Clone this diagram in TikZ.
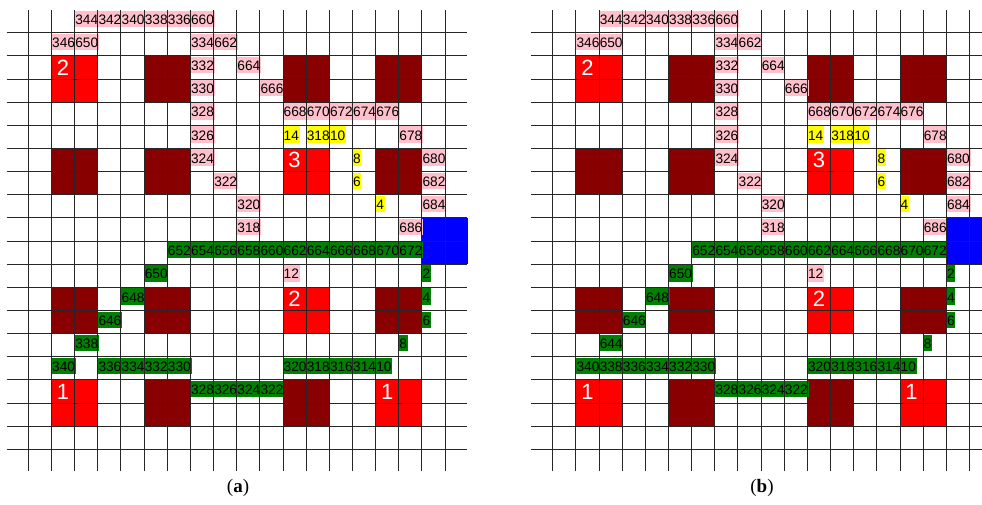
\documentclass[tikz,border=0pt]{standalone}
\usepackage{fontspec}
\setmainfont{Liberation Sans}
\newfontfamily\capfont{Liberation Serif}
\definecolor{cpink}{RGB}{255,192,203}
\definecolor{cyel}{RGB}{255,255,0}
\definecolor{cgreen}{RGB}{0,128,0}
\definecolor{cred}{RGB}{255,0,0}
\definecolor{cdark}{RGB}{136,0,0}
\definecolor{cblue}{RGB}{0,0,255}
\pgfdeclarelayer{bg}\pgfdeclarelayer{fg}\pgfsetlayers{bg,main,fg}
\tikzset{
 gridline/.style={line width=1pt, draw=black!85},
 labtext/.style={anchor=north west, inner xsep=0.5pt, inner ysep=0pt, text height=13.5pt, text depth=2.5pt, font=\fontsize{13.7}{14}\selectfont},
 bignum/.style={text=white, font=\fontsize{22}{24}\selectfont, inner sep=0pt},
 capst/.style={anchor=base, font=\capfont\fontsize{19}{22}\selectfont}
}
% label: #1 panel, #2 col, #3 row, #4 text, #5 colour
\newcommand\labx[5]{%
 \begin{pgfonlayer}{fg}\node[labtext] (#1l#2r#3) at ({5.2+23.15*#2},{10.55+23.15*#3}) {#4};\end{pgfonlayer}%
 \begin{pgfonlayer}{bg}\fill[#5] (#1l#2r#3.north west) rectangle (#1l#2r#3.south east);\end{pgfonlayer}}
\newcommand\drawpanel[3]{% #1 name, #2 line end, #3 blue right edge
 \foreach \k in {1,...,19}{
   \draw[gridline] ({5.2+23.15*\k},10) -- ({5.2+23.15*\k},471);
   \draw[gridline] (7,{9.55+23.15*\k}) -- (#2,{9.55+23.15*\k});
 }
 \begin{pgfonlayer}{bg}
  \foreach \ci/\ri in {6/2,12/2,16/2,2/6,6/6,16/6,2/12,6/12,16/12,6/16,12/16}
   {\fill[cdark] ({5.2+23.15*\ci},{9.55+23.15*\ri}) rectangle ++(46.3,46.3);}
  \foreach \ci/\ri in {2/2,12/6,12/12,2/16,16/16}
   {\fill[cred] ({5.2+23.15*\ci},{9.55+23.15*\ri}) rectangle ++(46.3,46.3);}
  \fill[cblue] ({5.2+23.15*18},{9.55+23.15*9}) rectangle (#3,{9.55+23.15*11});
 \end{pgfonlayer}
 \begin{pgfonlayer}{fg}
  \foreach \ci/\ri/\ti in {2/2/2,12/6/3,12/12/2,2/16/1,16/16/1}
   {\node[bignum] (#1big\ci r\ri) at ({5.2+23.15*(\ci+0.5)},{9.55+23.15*(\ri+0.5)}) {\ti};}
 \end{pgfonlayer}
 \foreach \ci/\ri/\ti in {3/0/344,4/0/342,5/0/340,6/0/338,7/0/336,8/0/660,
   2/1/346,3/1/650,8/1/334,9/1/662,8/2/332,10/2/664,8/3/330,11/3/666,
   8/4/328,12/4/668,13/4/670,14/4/672,15/4/674,16/4/676,8/5/326,17/5/678,
   8/6/324,18/6/680,9/7/322,18/7/682,10/8/320,18/8/684,10/9/318,17/9/686,12/11/12}
   {\labx{#1}{\ci}{\ri}{\ti}{cpink}}
 \foreach \ci/\ri/\ti in {12/5/14,13/5/318,14/5/10,15/6/8,15/7/6,16/8/4}
   {\labx{#1}{\ci}{\ri}{\ti}{cyel}}
 \foreach \ci/\ri/\ti in {7/10/652,8/10/654,9/10/656,10/10/658,11/10/660,12/10/662,
   13/10/664,14/10/666,15/10/668,16/10/670,17/10/672,6/11/650,18/11/2,5/12/648,18/12/4,
   4/13/646,18/13/6,17/14/8,2/15/340,4/15/336,5/15/334,6/15/332,7/15/330,
   12/15/320,13/15/318,14/15/316,15/15/314,16/15/10,8/16/328,9/16/326,10/16/324,11/16/322}
   {\labx{#1}{\ci}{\ri}{\ti}{cgreen}}
}
\begin{document}
\begin{tikzpicture}[x=1pt,y=-1pt]
\useasboundingbox (0,0) rectangle (982,504);
\begin{pgfonlayer}{bg}
\fill[white] (0,0) rectangle (982,504);
\end{pgfonlayer}
\drawpanel{a}{467}{468.2}
\labx{a}{3}{14}{338}{cgreen}
\begin{scope}[xshift=524.4pt]
\drawpanel{b}{457.6}{457.6}
\labx{b}{3}{14}{644}{cgreen}
\labx{b}{3}{15}{338}{cgreen}
\end{scope}
\node[capst] (capa) at (238,492.5) {(\textbf{a})};
\node[capst] (capb) at (762,492.5) {(\textbf{b})};
\end{tikzpicture}
\end{document}
